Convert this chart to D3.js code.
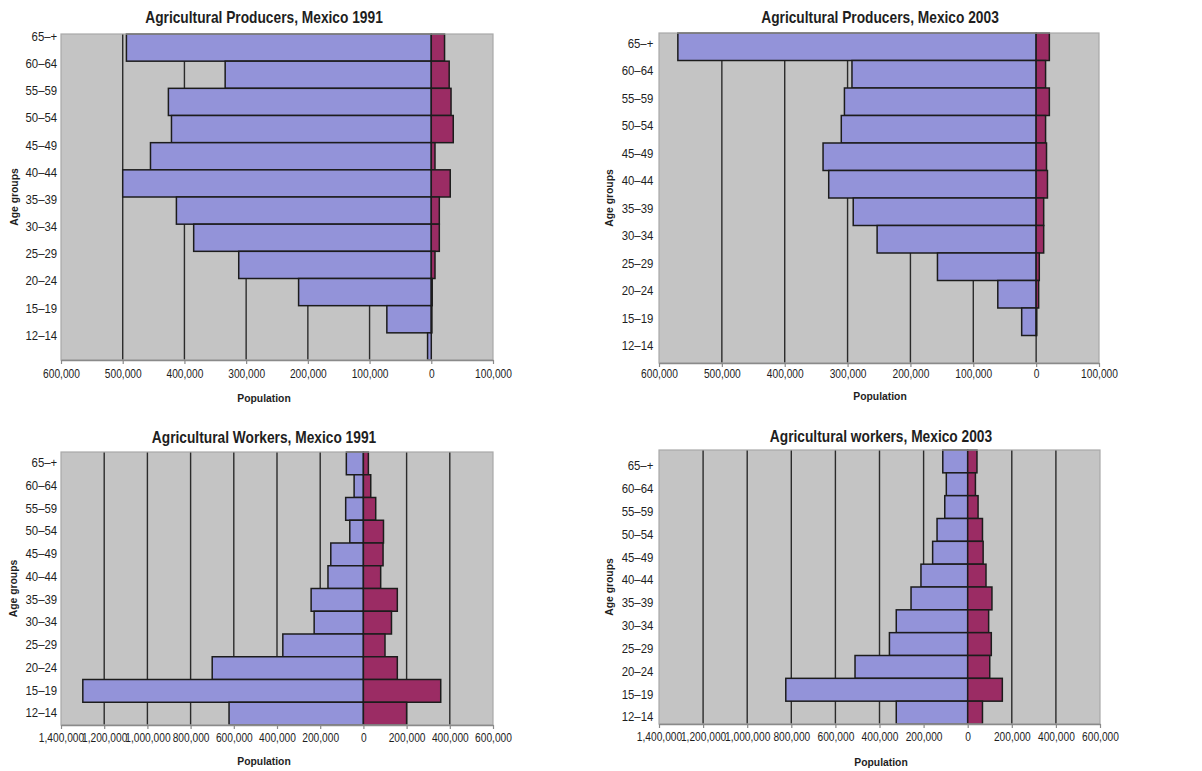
<!DOCTYPE html>
<html>
<head>
<meta charset="utf-8">
<script src="https://cdn.jsdelivr.net/npm/d3@7"></script>
<style>
  html, body { margin: 0; padding: 0; background: #ffffff; }
  svg { display: block; }
  text { font-family: "Liberation Sans", Arial, Helvetica, sans-serif; fill: #1e1e1e; }
</style>
</head>
<body>
<svg id="chart" width="1202" height="771"></svg>
<script>
// Age groups, top (oldest) to bottom (youngest)
const ageGroups = ["65–+", "60–64", "55–59", "50–54", "45–49", "40–44",
                   "35–39", "30–34", "25–29", "20–24", "15–19", "12–14"];

// Agricultural producers, 1991 (left / right series)
const producers1991Male   = [494000, 334000, 426000, 421000, 455000, 500000, 413000, 385000, 312000, 215000, 72000, 6000];
const producers1991Female = [21500, 29000, 32000, 35600, 6000, 30700, 13000, 13000, 6000, 1500, 1000, 0];

// Agricultural producers, 2003
const producers2003Male   = [570000, 293000, 305000, 310000, 339000, 330000, 291000, 253000, 157000, 61000, 23000, 0];
const producers2003Female = [21000, 15000, 21000, 15000, 16500, 18000, 12000, 12000, 5000, 4000, 1000, 0];

// Agricultural workers, 1991
const workers1991Male   = [79000, 43000, 82000, 63000, 151000, 164000, 242000, 228000, 373000, 700000, 1299000, 622000];
const workers1991Female = [23000, 34000, 57000, 93000, 91000, 80000, 157000, 130000, 100000, 157000, 358000, 200000];

// Agricultural workers, 2003
const workers2003Male   = [113000, 97000, 104000, 139000, 159000, 212000, 257000, 324000, 355000, 511000, 825000, 324000];
const workers2003Female = [42000, 35000, 47000, 67000, 70000, 83000, 110000, 95000, 107000, 100000, 157000, 67000];

// Axis extents and tick steps
const producerDomain = [-600000, 100000];
const producerStep = 100000;
const workerDomain = [-1400000, 600000];
const workerStep = 200000;

const titles = [
  "Agricultural Producers, Mexico 1991",
  "Agricultural Producers, Mexico 2003",
  "Agricultural Workers, Mexico 1991",
  "Agricultural workers, Mexico 2003"
];
const xAxisTitle = "Population";
const yAxisTitle = "Age groups";

// Panel layout
const panels = [
  { title: titles[0], male: producers1991Male, female: producers1991Female, domain: producerDomain, step: producerStep,
    left: 61, right: 493, top: 34, bottom: 360, titleX: 264, titleY: 17, popY: 398, ageX: 13.5,
    labelShift: -10.5, labelPad: 4, tickPad: 5 },
  { title: titles[1], male: producers2003Male, female: producers2003Female, domain: producerDomain, step: producerStep,
    left: 659, right: 1099, top: 33, bottom: 363, titleX: 880, titleY: 17, popY: 396, ageX: 609,
    labelShift: -3, labelPad: 6, tickPad: 2 },
  { title: titles[2], male: workers1991Male, female: workers1991Female, domain: workerDomain, step: workerStep,
    left: 61, right: 493, top: 452, bottom: 725, titleX: 264, titleY: 437, popY: 761, ageX: 13,
    labelShift: 0, labelPad: 4, tickPad: 4 },
  { title: titles[3], male: workers2003Male, female: workers2003Female, domain: workerDomain, step: workerStep,
    left: 659, right: 1100, top: 450, bottom: 724, titleX: 881, titleY: 436, popY: 762, ageX: 609,
    labelShift: 5, labelPad: 6, tickPad: 4 }
];

const colors = {
  plotBg: "#c4c4c4",
  border: "#a9a9a9",
  grid: "#2b2b2b",
  male: "#9393d9",
  female: "#9b2c64",
  barStroke: "#1c1c1c",
  axis: "#8a8a8a"
};

const svg = d3.select("#chart");
const fmt = d3.format(",");

panels.forEach(p => {
  const g = svg.append("g");

  const x = d3.scaleLinear().domain(p.domain).range([p.left, p.right]);
  const y = d3.scaleBand().domain(ageGroups).range([p.top, p.bottom]).padding(0);
  const ticks = d3.range(p.domain[0], p.domain[1] + 1, p.step);

  // plot background
  g.append("rect")
    .attr("x", p.left).attr("y", p.top)
    .attr("width", p.right - p.left).attr("height", p.bottom - p.top)
    .attr("fill", colors.plotBg);

  // vertical gridlines (interior ticks)
  g.append("g").selectAll("line")
    .data(ticks.slice(1, -1))
    .join("line")
    .attr("x1", d => x(d)).attr("x2", d => x(d))
    .attr("y1", p.top).attr("y2", p.bottom)
    .attr("stroke", colors.grid).attr("stroke-width", 1.4);

  // left-hand bars
  g.append("g").selectAll("rect")
    .data(ageGroups.map((a, i) => ({ age: a, v: p.male[i] })).filter(d => d.v > 0))
    .join("rect")
    .attr("x", d => x(-d.v))
    .attr("y", d => y(d.age))
    .attr("width", d => x(0) - x(-d.v))
    .attr("height", y.bandwidth())
    .attr("fill", colors.male)
    .attr("stroke", colors.barStroke).attr("stroke-width", 1.5);

  // right-hand bars
  g.append("g").selectAll("rect")
    .data(ageGroups.map((a, i) => ({ age: a, v: p.female[i] })).filter(d => d.v > 0))
    .join("rect")
    .attr("x", x(0))
    .attr("y", d => y(d.age))
    .attr("width", d => x(d.v) - x(0))
    .attr("height", y.bandwidth())
    .attr("fill", colors.female)
    .attr("stroke", colors.barStroke).attr("stroke-width", 1.5);

  // plot frame
  g.append("rect")
    .attr("x", p.left).attr("y", p.top)
    .attr("width", p.right - p.left).attr("height", p.bottom - p.top)
    .attr("fill", "none").attr("stroke", colors.border).attr("stroke-width", 1.2);

  // bottom axis
  const xAxis = g.append("g")
    .attr("transform", `translate(0,${p.bottom})`)
    .call(d3.axisBottom(x).tickValues(ticks).tickFormat(d => fmt(Math.abs(d)))
      .tickSizeInner(4).tickSizeOuter(0).tickPadding(p.tickPad));
  xAxis.select(".domain").attr("stroke", colors.axis).attr("stroke-width", 1.5);
  xAxis.selectAll(".tick line").attr("stroke", colors.axis).attr("stroke-width", 1.2);
  xAxis.selectAll("text")
    .attr("font-size", 12).attr("fill", "#1e1e1e")
    .attr("font-family", "Liberation Sans, Arial, sans-serif")
    .attr("transform", "scale(0.85,1)");

  // age-group labels
  const yAxis = g.append("g")
    .attr("transform", `translate(${p.left},0)`)
    .call(d3.axisLeft(y).tickSize(0).tickPadding(p.labelPad));
  yAxis.select(".domain").remove();
  yAxis.selectAll("text")
    .attr("font-size", 12).attr("fill", "#1e1e1e")
    .attr("font-family", "Liberation Sans, Arial, sans-serif")
    .attr("transform", `translate(0,${p.labelShift}) scale(0.95,1)`);

  // chart title
  g.append("text")
    .attr("transform", `translate(${p.titleX},${p.titleY}) scale(0.86,1)`)
    .attr("text-anchor", "middle").attr("dominant-baseline", "central")
    .attr("font-size", 16).attr("font-weight", "bold")
    .text(p.title);

  // x-axis title
  g.append("text")
    .attr("transform", `translate(${(p.titleX)},${p.popY}) scale(0.9,1)`)
    .attr("text-anchor", "middle").attr("dominant-baseline", "central")
    .attr("font-size", 11.5).attr("font-weight", "bold")
    .text(xAxisTitle);

  // y-axis title
  g.append("text")
    .attr("transform", `translate(${p.ageX},${(p.top + p.bottom) / 2}) rotate(-90) scale(0.9,1)`)
    .attr("text-anchor", "middle").attr("dominant-baseline", "central")
    .attr("font-size", 11.5).attr("font-weight", "bold")
    .text(yAxisTitle);
});
</script>
</body>
</html>
